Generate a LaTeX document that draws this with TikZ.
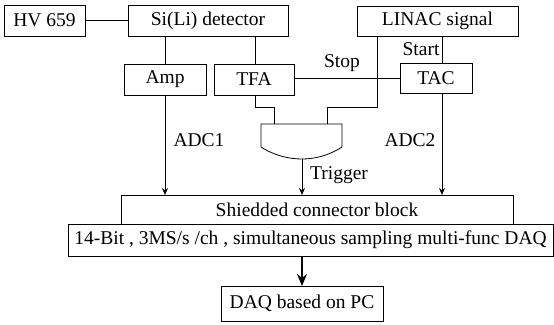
\documentclass[tikz,border=0pt]{standalone}
\usepackage{fontspec}
\setmainfont{Liberation Serif}
\usetikzlibrary{arrows.meta}
\begin{document}
\begin{tikzpicture}[x=1pt,y=-1pt,
  every node/.style={font=\fontsize{19.5}{22}\selectfont},
  blk/.style={draw, line width=0.8pt, inner sep=0pt, outer sep=0pt},
  ln/.style={line width=0.8pt},
  arr/.style={line width=0.8pt, -{Stealth[length=7pt,width=6pt]}},
  bigarr/.style={line width=1.5pt, -{Stealth[length=12pt,width=10pt]}},
  lbl/.style={inner sep=0pt}]
\useasboundingbox (0,0) rectangle (554,324);
% boxes
\node[blk, minimum width=81pt, minimum height=31pt] (hv) at (44.5,20.5) {HV 659};
\node[blk, minimum width=160pt, minimum height=31pt] (si) at (208,20.5) {Si(Li) detector};
\node[blk, minimum width=161pt, minimum height=30pt] (linac) at (437.5,21) {LINAC signal};
\node[blk, minimum width=82pt, minimum height=31pt] (amp) at (165,79.5) {Amp};
\node[blk, minimum width=80pt, minimum height=31pt] (tfa) at (254,79.5) {TFA};
\node[blk, minimum width=72pt, minimum height=30pt] (tac) at (436,78) {TAC};
\node[blk, minimum width=392pt, minimum height=29pt] (sh) at (317,209.5) {Shiedded connector block};
\node[blk, minimum width=485pt, minimum height=32pt] (daq) at (310.5,240) {14-Bit , 3MS/s /ch , simultaneous sampling multi-func DAQ};
\node[blk, minimum width=162pt, minimum height=35pt] (pc) at (302,303.5) {DAQ based on PC};
% gate
\coordinate (gin1) at (274,124);
\coordinate (gin2) at (327,124);
\coordinate (gout) at (302,159);
\draw[ln] (261,124) -- (261,147) .. controls (275,156) and (290,159) .. (gout)
  .. controls (314,159) and (328,156) .. (342,147) -- (342,124) -- cycle;
% connectors
\coordinate (j1) at (255,107);
\coordinate (j2) at (377,107);
\coordinate (st) at (442,0);
\draw[ln] (hv) -- (si);
\draw[ln] (amp.north) -- (amp.north |- si.south);
\draw[ln] (tfa.north -| j1) -- (si.south -| j1);
\draw[ln] (tfa.south -| j1) -- (j1) -| (gin1);
\draw[ln] (linac.south -| j2) -- (j2) -| (gin2);
\draw[ln] (tfa.east |- tac.west) -- (tac.west);
\draw[ln] (linac.south -| st) -- (tac.north -| st);
\draw[arr] (amp.south) -- (amp.south |- sh.north);
\draw[arr] (gout) -- (gout |- sh.north);
\draw[arr] (tac.south -| st) -- (sh.north -| st);
\draw[bigarr] (daq.south -| pc) -- (pc.north);
% labels
\node[lbl] (stop) at (342,63) {Stop};
\node[lbl] (start) at (421,49) {Start};
\node[lbl] (adc1) at (199,140) {ADC1};
\node[lbl] (adc2) at (410,140) {ADC2};
\node[lbl] (trig) at (339,175) {Trigger};
\end{tikzpicture}
\end{document}
